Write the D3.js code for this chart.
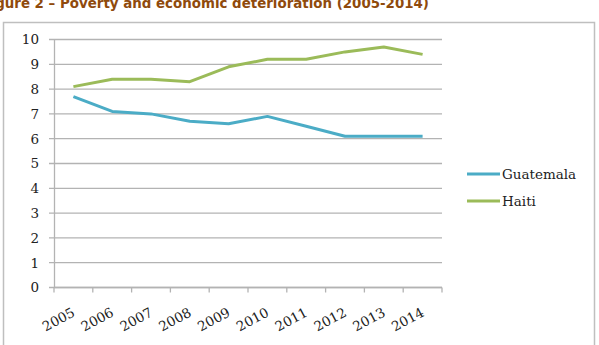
<!DOCTYPE html>
<html>
<head>
<meta charset="utf-8">
<script src="https://cdn.jsdelivr.net/npm/d3@7"></script>
<style>
  body { margin: 0; background: #fff; }
</style>
</head>
<body>
<div id="vis"></div>
<script>
// Data
let years = ['2005', '2006', '2007', '2008', '2009', '2010', '2011', '2012', '2013', '2014'];
let guatemala = [7.7, 7.1, 7.0, 6.7, 6.6, 6.9, 6.5, 6.1, 6.1, 6.1];
let haiti = [8.1, 8.4, 8.4, 8.3, 8.9, 9.2, 9.2, 9.5, 9.7, 9.4];
let yTicks = [0, 1, 2, 3, 4, 5, 6, 7, 8, 9, 10];
let seriesNames = ['Guatemala', 'Haiti'];

let width = 599,
    height = 345;

let margin = { top: 39.5, bottom: 57.5, left: 54, right: 157 };

let labelFont = '"DejaVu Serif", serif';

let svg = d3.select('#vis')
  .append('svg')
  .attr('width', width)
  .attr('height', height);

// Title (cut off on the left like the source)
svg.append('text')
  .attr('x', 429)
  .attr('y', 8)
  .attr('text-anchor', 'end')
  .style('font-family', 'Verdana, "DejaVu Sans", sans-serif')
  .style('font-weight', 'bold')
  .style('font-size', '13.4px')
  .style('fill', '#8f4a0c')
  .text('Figure 2 – Poverty and economic deterioration (2005-2014)');

// Chart frame
svg.append('rect')
  .attr('x', 3.5)
  .attr('y', 22.5)
  .attr('width', 591)
  .attr('height', 340)
  .attr('fill', 'none')
  .attr('stroke', '#bfbfbf')
  .attr('stroke-width', 1.5);

let xScale = d3.scaleBand()
  .domain(years)
  .range([margin.left, width - margin.right]);

let yScale = d3.scaleLinear()
  .domain([0, 10])
  .range([height - margin.bottom, margin.top]);

let colorScale = d3.scaleOrdinal()
  .domain(seriesNames)
  .range(['#4bacc6', '#9bbb59']);

// Gridlines
svg.append('g')
  .selectAll('line')
  .data(yTicks)
  .enter()
  .append('line')
  .attr('x1', margin.left - 5)
  .attr('x2', width - margin.right)
  .attr('y1', d => yScale(d))
  .attr('y2', d => yScale(d))
  .attr('stroke', '#b3b3b3')
  .attr('stroke-width', 1.3);

// Y axis
let yAxis = svg.append('g')
  .attr('transform', `translate(${margin.left}, 0)`)
  .call(d3.axisLeft(yScale).tickValues(yTicks).tickSize(0).tickPadding(15));
yAxis.select('.domain').attr('stroke', '#b3b3b3').attr('stroke-width', 1.3);
yAxis.selectAll('text')
  .style('font-family', labelFont)
  .style('font-size', '13.5px')
  .style('fill', '#222');

// X axis with ticks between categories
let xAxis = svg.append('g')
  .attr('transform', `translate(0, ${yScale(0)})`);
xAxis.append('line')
  .attr('x1', margin.left)
  .attr('x2', width - margin.right)
  .attr('stroke', '#b3b3b3')
  .attr('stroke-width', 1.3);
let tickPos = years.map(d => xScale(d)).concat([xScale(years[years.length - 1]) + xScale.bandwidth()]);
xAxis.selectAll('.tk')
  .data(tickPos)
  .enter()
  .append('line')
  .attr('x1', d => d)
  .attr('x2', d => d)
  .attr('y1', 0)
  .attr('y2', 5)
  .attr('stroke', '#b3b3b3')
  .attr('stroke-width', 1.3);
xAxis.selectAll('.lbl')
  .data(years)
  .enter()
  .append('text')
  .attr('transform', d => `translate(${xScale(d) + xScale.bandwidth() / 2 + 2.5}, 28) rotate(-28)`)
  .attr('text-anchor', 'end')
  .style('font-family', labelFont)
  .style('font-size', '13.5px')
  .style('fill', '#222')
  .text(d => d);

// Lines
let line = d3.line()
  .x((d, i) => xScale(years[i]) + xScale.bandwidth() / 2)
  .y(d => yScale(d));

let series = [guatemala, haiti];
svg.selectAll('.series')
  .data(series)
  .enter()
  .append('path')
  .attr('d', d => line(d))
  .attr('fill', 'none')
  .attr('stroke', (d, i) => colorScale(seriesNames[i]))
  .attr('stroke-width', 3)
  .attr('stroke-linejoin', 'round');

// Legend
let legend = svg.selectAll('.legend')
  .data(seriesNames)
  .enter()
  .append('g')
  .attr('transform', (d, i) => `translate(467, ${174 + i * 27})`);
legend.append('line')
  .attr('x1', 0)
  .attr('x2', 33)
  .attr('stroke', d => colorScale(d))
  .attr('stroke-width', 3);
legend.append('text')
  .attr('x', 35)
  .attr('y', 5)
  .style('font-family', labelFont)
  .style('font-size', '13.5px')
  .style('fill', '#222')
  .text(d => d);
</script>
</body>
</html>
